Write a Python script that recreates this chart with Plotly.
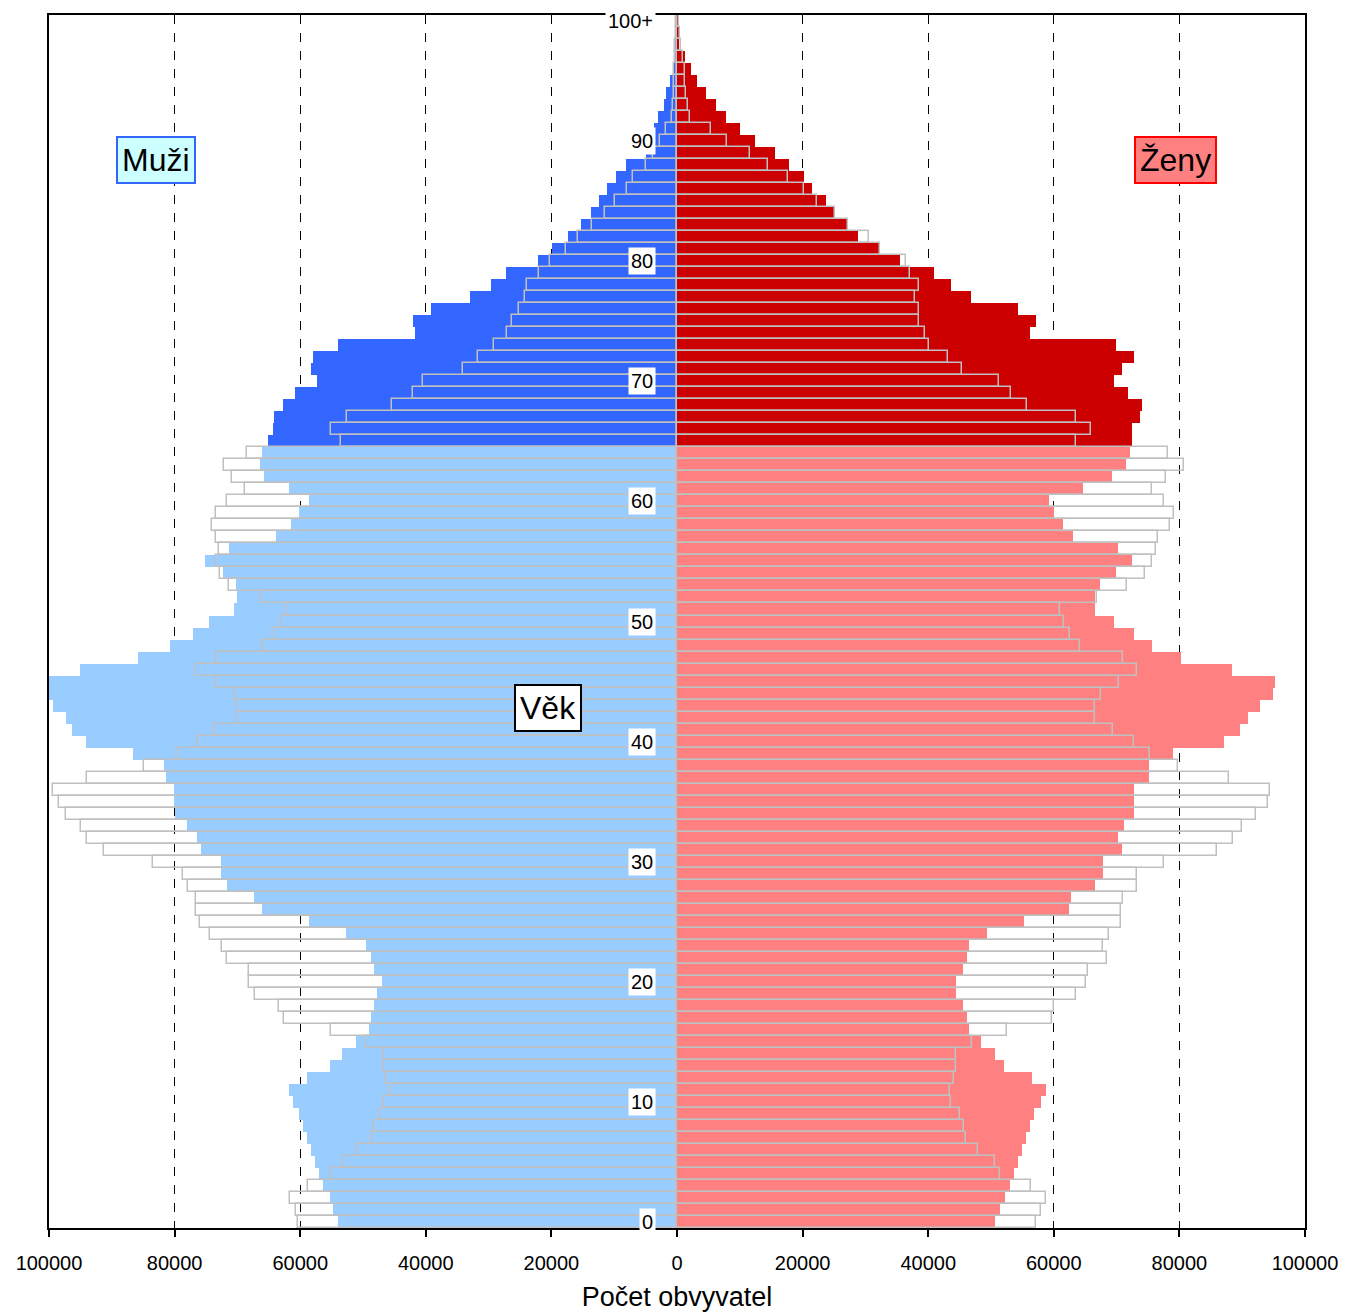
import plotly.graph_objects as go

ages = list(range(0, 101))
age_labels = ["0", "10", "20", "30", "40", "50", "60", "70", "80", "90", "100+"]

# current population, index = age 0..100
muzi = [54000, 54700, 55300, 56300, 57000, 57600, 58300, 58900, 59600, 60200,
        61200, 61800, 58900, 55300, 53400, 51100, 49100, 48800, 48200, 47800,
        46900, 48200, 48800, 49500, 52700, 58600, 66100, 67400, 71600, 72600,
        72600, 75800, 76500, 78100, 79900, 80100, 80100, 81400, 81700, 86600,
        94100, 96400, 97300, 99400, 100000, 100000, 95000, 85900, 80700, 77100,
        74500, 70600, 70000, 70300, 72300, 75200, 71300, 63800, 61500, 60200,
        58600, 61800, 65800, 66400, 66100, 65100, 64400, 64100, 62800, 60900,
        57300, 58300, 57900, 54000, 41700, 42000, 39100, 32900, 29600, 27300,
        22100, 19900, 17300, 15300, 13700, 12400, 11100, 9700, 8100, 5000,
        4400, 3700, 3050, 2100, 1750, 1100, 600, 400, 250, 150, 100]
zeny = [50700, 51400, 52300, 53000, 53600, 54300, 54900, 55600, 56200, 56900,
        57900, 58800, 56600, 52000, 50700, 48400, 46500, 46200, 45500, 44500,
        44500, 45500, 46200, 46500, 49400, 55300, 62400, 62700, 66600, 67900,
        67900, 70900, 70200, 71200, 72800, 72800, 72800, 75100, 75100, 79000,
        87100, 89700, 91000, 92900, 94900, 95200, 88400, 80300, 75700, 72800,
        69600, 66600, 66500, 67300, 69900, 72500, 70200, 63000, 61400, 60100,
        59300, 64700, 69200, 71500, 72200, 72500, 72500, 73800, 74100, 71800,
        69600, 70900, 72800, 69900, 56200, 57200, 54300, 46800, 43600, 41000,
        35500, 32400, 28900, 27200, 25200, 23700, 21500, 20200, 17900, 15600,
        12400, 10100, 7800, 6200, 4550, 3250, 2300, 1300, 300, 250, 200]

# earlier population (outlined bars)
muzi_dr = [60300, 60700, 61600, 58700, 55100, 53200, 50900, 48600, 48300, 47300,
           46700, 45700, 46400, 46700, 46700, 49600, 55100, 62600, 63300, 67200,
           68200, 68200, 71700, 72400, 74300, 76000, 76600, 76600, 77900, 78600,
           83500, 91300, 93900, 94900, 97300, 98400, 99400, 93900, 84800, 79600,
           76300, 73700, 70100, 70100, 70400, 73400, 76600, 73400, 65900, 64300,
           63000, 62300, 66200, 71400, 72700, 73400, 73000, 73400, 74000, 73400,
           71700, 68800, 70800, 72100, 68500, 53500, 55100, 52500, 45400, 42100,
           40500, 34000, 31700, 29100, 27100, 26200, 25200, 24200, 23900, 21900,
           20300, 17700, 15800, 13500, 11500, 9900, 7900, 7000, 5000, 3900,
           2700, 1750, 800, 600, 500, 450, 400, 350, 250, 150, 100]
zeny_dr = [57100, 58000, 58700, 56400, 51500, 50600, 48000, 46000, 45700, 45000,
           43700, 43400, 44100, 44400, 44400, 47000, 52500, 59700, 60000, 63600,
           65200, 65500, 68400, 67800, 68800, 70700, 70700, 71000, 73300, 73300,
           77500, 86000, 88600, 89900, 92200, 94100, 94400, 87900, 79800, 75300,
           72700, 69400, 66500, 66500, 67500, 70400, 73300, 71000, 64200, 62600,
           61600, 61000, 66800, 71700, 74600, 75600, 76200, 76600, 78500, 79200,
           77500, 75600, 77900, 80800, 78200, 63600, 65900, 63600, 55800, 53200,
           51200, 45400, 43100, 40200, 39500, 38500, 38500, 37900, 38500, 37100,
           36500, 32400, 30600, 27300, 25200, 22300, 20300, 17600, 14500, 11700,
           8000, 5400, 2100, 1800, 1500, 1200, 1200, 900, 600, 400, 300]

muzi_barvy = ["#99CCFF" if a < 65 else "#3366FF" for a in ages]
zeny_barvy = ["#FF8080" if a < 65 else "#CC0000" for a in ages]

fig = go.Figure()

fig.add_trace(go.Bar(
    y=ages, x=[-v for v in muzi], orientation="h",
    marker=dict(color=muzi_barvy, line=dict(width=0)),
    showlegend=False
))
fig.add_trace(go.Bar(
    y=ages, x=zeny, orientation="h",
    marker=dict(color=zeny_barvy, line=dict(width=0)),
    showlegend=False
))
fig.add_trace(go.Bar(
    y=ages, x=[-v for v in muzi_dr], orientation="h",
    marker=dict(color="rgba(255,255,255,0)", line=dict(color="#C0C0C0", width=1.5)),
    showlegend=False
))
fig.add_trace(go.Bar(
    y=ages, x=zeny_dr, orientation="h",
    marker=dict(color="rgba(255,255,255,0)", line=dict(color="#C0C0C0", width=1.5)),
    showlegend=False
))

# age labels down the middle
for i, lab in enumerate(age_labels):
    fig.add_annotation(
        x=-3300, y=i * 10, text=lab, showarrow=False,
        xanchor="right", yanchor="middle",
        font=dict(size=20, color="black", family="Liberation Sans"),
        bgcolor="white", borderpad=2
    )

fig.add_annotation(x=-82900, y=88.4, text="Muži", showarrow=False,
                   font=dict(size=32, color="black", family="Liberation Sans"),
                   bgcolor="#CCFFFF", bordercolor="#3366FF", borderwidth=2, borderpad=4)
fig.add_annotation(x=79400, y=88.4, text="Ženy", showarrow=False,
                   font=dict(size=32, color="black", family="Liberation Sans"),
                   bgcolor="#FF8080", bordercolor="#FF0000", borderwidth=2, borderpad=4)
fig.add_annotation(x=-20600, y=42.8, text="Věk", showarrow=False,
                   font=dict(size=32, color="black", family="Liberation Sans"),
                   bgcolor="white", bordercolor="black", borderwidth=2, borderpad=4)

tick_vals = list(range(-100000, 100001, 20000))
tick_text = [str(abs(v)) for v in tick_vals]

fig.update_layout(
    width=1346, height=1313,
    barmode="overlay", bargap=0,
    paper_bgcolor="white", plot_bgcolor="white",
    margin=dict(l=41, r=49, t=5, b=93),
    font=dict(family="Liberation Sans", color="black"),
    xaxis=dict(
        range=[-100000, 100000],
        tickvals=tick_vals, ticktext=tick_text,
        tickfont=dict(size=20),
        ticks="outside", ticklen=7, tickcolor="black", tickwidth=1.5,
        ticklabelstandoff=9,
        showgrid=True, gridcolor="black", griddash="dash", gridwidth=1.3,
        zeroline=False,
        showline=True, mirror=True, linecolor="black", linewidth=1.5,
        title=dict(text="Počet obvyvatel", font=dict(size=27), standoff=14)
    ),
    yaxis=dict(
        range=[-0.5, 100.5],
        showticklabels=False, showgrid=False, zeroline=False, ticks="",
        showline=True, mirror=True, linecolor="black", linewidth=1.5
    )
)

fig.write_html("out.html")
